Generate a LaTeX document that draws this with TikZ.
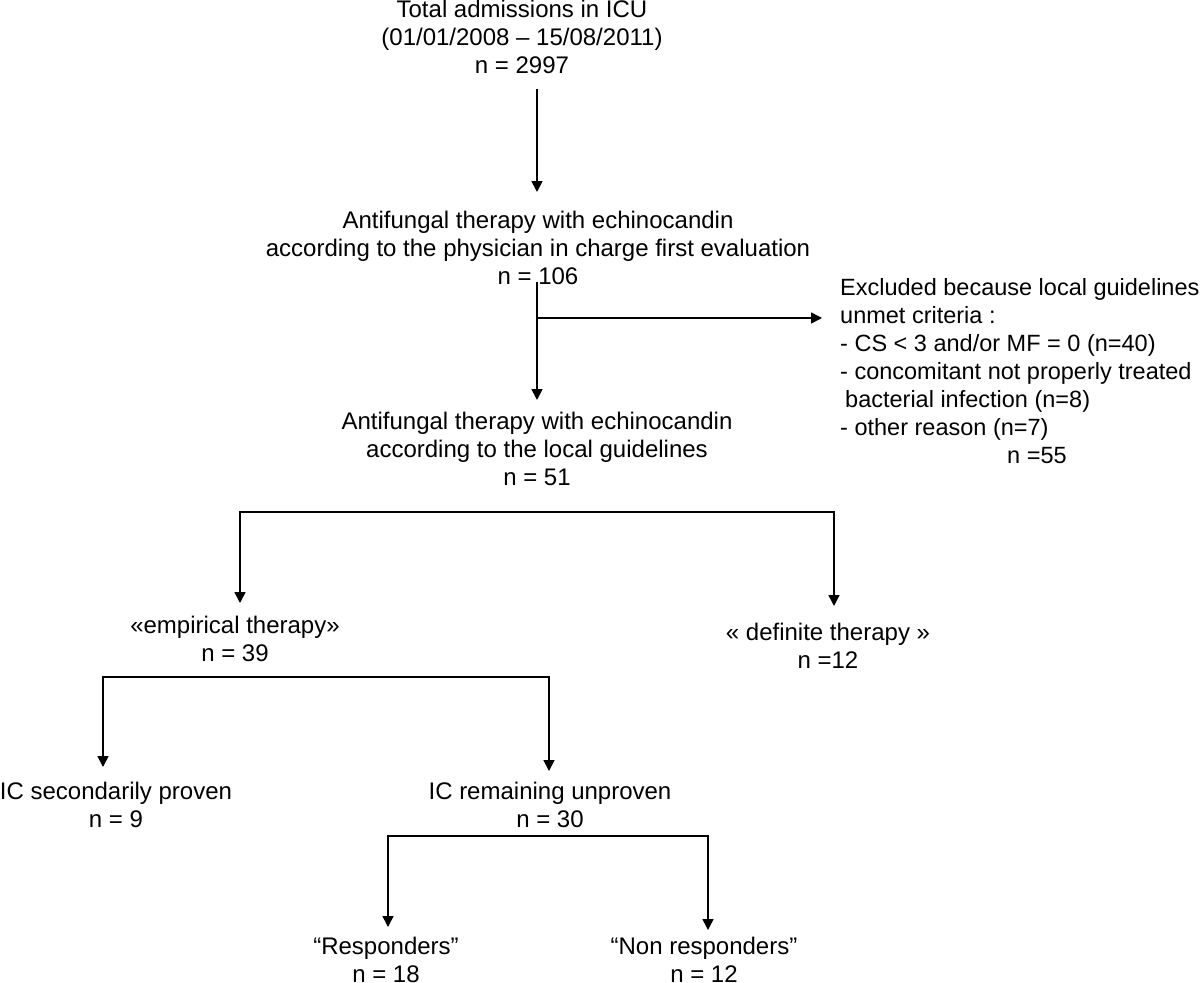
\documentclass[tikz,border=0pt]{standalone}
\usepackage{fontspec}
\setmainfont{Liberation Sans}
\usetikzlibrary{arrows.meta}
\begin{document}
\begin{tikzpicture}[x=1pt,y=-1pt,
  lbl/.style={align=center, inner sep=0pt, anchor=base, font=\fontsize{24}{28}\selectfont},
  lbll/.style={align=left, inner sep=0pt, anchor=base west, font=\fontsize{23.5}{28}\selectfont},
  arr/.style={-{Triangle[width=11pt,length=11pt]}, line width=1.6pt},
  ln/.style={line width=1.6pt}]
\useasboundingbox (0,0) rectangle (1200,983);
% nodes (anchored at the baseline of their last line)
\node[lbl] (total) at (522,73) {Total admissions in ICU\\(01/01/2008 – 15/08/2011)\\n = 2997};
\node[lbl] (first) at (538,284) {Antifungal therapy with echinocandin\\according to the physician in charge first evaluation\\n = 106};
\node[lbll] (excl) at (840,463) {Excluded because local guidelines\\unmet criteria :\\- CS < 3 and/or MF = 0 (n=40)\\- concomitant not properly treated\\\hspace*{5pt}bacterial infection (n=8)\\- other reason (n=7)\\\hspace*{167pt}n =55};
\node[lbl] (local) at (537,485) {Antifungal therapy with echinocandin\\according to the local guidelines\\n = 51};
\node[lbl] (emp) at (235,661) {«empirical therapy»\\n = 39};
\node[lbl] (def) at (828,668) {« definite therapy »\\n =12};
\node[lbl] (sec) at (116,827) {IC secondarily proven\\n = 9};
\node[lbl] (unp) at (550,827) {IC remaining unproven\\n = 30};
\node[lbl] (resp) at (386,982) {“Responders”\\n = 18};
\node[lbl] (nonresp) at (704,982) {“Non responders”\\n = 12};
% coordinates
\coordinate (a1s) at (537,89);
\coordinate (a1e) at (537,192);
\coordinate (a2s) at (537,282);
\coordinate (a2b) at (537,318);
\coordinate (a2e) at (537,400);
\coordinate (a2x) at (822,318);
\coordinate (b1l) at (240,512);
\coordinate (b1r) at (834,512);
\coordinate (b1le) at (240,603);
\coordinate (b1re) at (834,606);
\coordinate (b2l) at (103,677);
\coordinate (b2r) at (549,677);
\coordinate (b2le) at (103,767);
\coordinate (b2re) at (549,771);
\coordinate (b3l) at (388,836);
\coordinate (b3r) at (708,836);
\coordinate (b3le) at (388,927);
\coordinate (b3re) at (708,930);
% connectors
\draw[arr] (a1s) -- (a1e);
\draw[arr] (a2s) -- (a2e);
\draw[arr] (a2b) -- (a2x);
\draw[arr] (b1r) -- (b1l) -- (b1le);
\draw[arr] (b1l) -- (b1r) -- (b1re);
\draw[arr] (b2r) -- (b2l) -- (b2le);
\draw[arr] (b2l) -- (b2r) -- (b2re);
\draw[arr] (b3r) -- (b3l) -- (b3le);
\draw[arr] (b3l) -- (b3r) -- (b3re);
\end{tikzpicture}
\end{document}
